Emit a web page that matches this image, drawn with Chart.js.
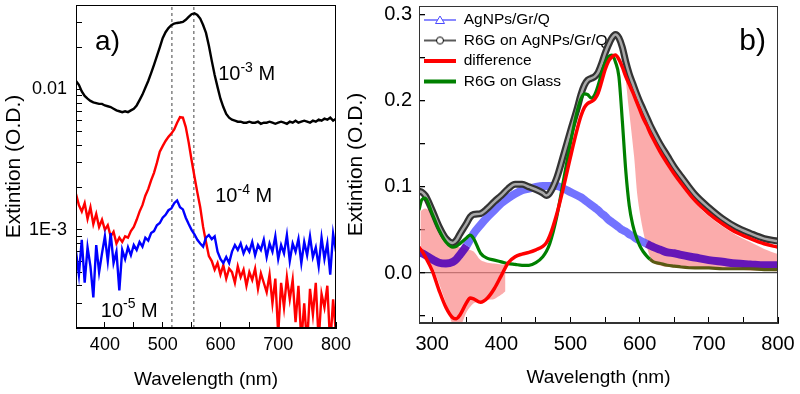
<!DOCTYPE html>
<html><head><meta charset="utf-8">
<script src="https://cdn.jsdelivr.net/npm/chart.js@4.4.0/dist/chart.umd.min.js"></script>
<style>
html,body{margin:0;padding:0;background:#fff;}
#wrap{position:relative;width:800px;height:394px;overflow:hidden;background:#fff;}
#ca{position:absolute;left:0;top:0;}
#cb{position:absolute;left:340px;top:0;}
</style></head><body>
<div id="wrap"><canvas id="ca" width="360" height="394"></canvas><canvas id="cb" width="460" height="394"></canvas></div>
<script>
// ---------------- Panel a data (log scale) ----------------
const waveA = [350,355,360,365,370,375,380,385,390,395,400,405,410,415,420,425,430,435,440,445,450,455,460,465,470,475,480,485,490,495,500,505,510,515,520,525,530,535,540,545,550,555,560,565,570,575,580,585,590,595,600,605,610,615,620,625,630,635,640,645,650,655,660,665,670,675,680,685,690,695,700,705,710,715,720,725,730,735,740,745,750,755,760,765,770,775,780,785,790,795,800];
const conc1e3 = [0.0115,0.0108,0.0097,0.0090,0.0086,0.0083,0.0081,0.0080,0.0079,0.0079,0.0077,0.0076,0.0075,0.0073,0.0071,0.0070,0.0069,0.0070,0.0069,0.0071,0.0073,0.0077,0.0084,0.0092,0.0103,0.0115,0.0131,0.0150,0.0173,0.0200,0.0232,0.0256,0.0274,0.0287,0.0295,0.0298,0.0300,0.0303,0.0314,0.0329,0.0344,0.0349,0.0340,0.0320,0.0288,0.0253,0.0205,0.0160,0.0127,0.0104,0.0086,0.0075,0.0067,0.0063,0.0061,0.0060,0.0059,0.0059,0.0058,0.0058,0.0059,0.0058,0.0058,0.0059,0.0057,0.0058,0.0058,0.0059,0.0058,0.0057,0.0058,0.0059,0.0058,0.0057,0.0059,0.0058,0.0060,0.0058,0.0059,0.0060,0.0059,0.0058,0.0060,0.0059,0.0061,0.0060,0.0062,0.0061,0.0063,0.0060,0.0062];
const conc1e4 = [0.00180,0.00150,0.00135,0.00155,0.00120,0.00145,0.00110,0.00130,0.00105,0.00118,0.00100,0.00108,0.00090,0.00097,0.00080,0.00088,0.00082,0.00090,0.00088,0.00098,0.00105,0.00118,0.00135,0.00150,0.00175,0.00195,0.00225,0.00255,0.00300,0.00360,0.00395,0.00430,0.00460,0.00485,0.00520,0.00580,0.00635,0.00630,0.00540,0.00420,0.00315,0.00240,0.00185,0.00145,0.00105,0.00082,0.00065,0.00060,0.00052,0.00058,0.00048,0.00056,0.00045,0.00053,0.00050,0.00042,0.00055,0.00046,0.00052,0.00040,0.00050,0.00044,0.00053,0.00038,0.00049,0.00042,0.00036,0.00048,0.00030,0.00045,0.00018,0.00042,0.00028,0.00046,0.00032,0.00044,0.00022,0.00040,0.00016,0.00030,0.00015,0.00038,0.00025,0.00042,0.00016,0.00035,0.00028,0.00040,0.00015,0.00032,0.00018];
const conc1e5 = [0.00070,0.00048,0.00085,0.00042,0.00075,0.00055,0.00033,0.00078,0.00050,0.00068,0.00090,0.00060,0.00095,0.00058,0.00070,0.00037,0.00072,0.00062,0.00075,0.00066,0.00078,0.00072,0.00082,0.00076,0.00088,0.00084,0.00095,0.00098,0.00108,0.00112,0.00122,0.00128,0.00138,0.00142,0.00155,0.00162,0.00145,0.00140,0.00122,0.00110,0.00100,0.00093,0.00085,0.00080,0.00076,0.00088,0.00092,0.00086,0.00090,0.00070,0.00062,0.00058,0.00064,0.00058,0.00070,0.00078,0.00072,0.00080,0.00068,0.00076,0.00070,0.00082,0.00066,0.00078,0.00072,0.00085,0.00064,0.00080,0.00070,0.00090,0.00062,0.00078,0.00068,0.00092,0.00060,0.00080,0.00070,0.00086,0.00058,0.00082,0.00066,0.00090,0.00064,0.00075,0.00055,0.00088,0.00062,0.00080,0.00048,0.00094,0.00070];
const dashWaveA = [516, 554];
const yMinA = 0.0002, yMaxA = 0.04;
const majorTicksA = [0.001, 0.01];
const majorLabelsA = ['1E-3', '0.01'];

// ---------------- Panel b data ----------------
const waveB = [281,285,290,300,310,320,330,335,340,350,355,360,370,380,390,400,410,420,430,440,450,460,465,470,480,490,500,510,515,520,525,530,535,540,545,550,555,560,565,570,575,580,585,590,595,600,605,610,615,620,630,640,650,660,680,700,720,740,760,780,800];
const agnps = [0.024,0.023,0.021,0.016,0.012,0.011,0.013,0.016,0.021,0.032,0.039,0.046,0.056,0.065,0.073,0.081,0.087,0.092,0.096,0.098,0.100,0.101,0.101,0.101,0.101,0.098,0.094,0.090,0.088,0.085,0.082,0.079,0.076,0.073,0.069,0.066,0.062,0.059,0.056,0.053,0.050,0.048,0.045,0.043,0.040,0.038,0.036,0.034,0.032,0.030,0.027,0.024,0.023,0.021,0.018,0.015,0.013,0.011,0.010,0.009,0.009];
const r6gOnAg = [0.095,0.094,0.090,0.073,0.054,0.040,0.035,0.038,0.045,0.058,0.065,0.068,0.069,0.075,0.083,0.090,0.098,0.103,0.103,0.100,0.097,0.093,0.090,0.093,0.110,0.137,0.165,0.192,0.207,0.218,0.224,0.226,0.228,0.233,0.243,0.255,0.265,0.273,0.277,0.273,0.262,0.245,0.231,0.220,0.209,0.199,0.190,0.181,0.172,0.164,0.149,0.136,0.123,0.112,0.091,0.076,0.063,0.053,0.046,0.040,0.037];
const difference = [0.030,0.026,0.019,0.003,-0.020,-0.040,-0.052,-0.053,-0.049,-0.034,-0.029,-0.030,-0.034,-0.029,-0.018,-0.003,0.012,0.019,0.022,0.024,0.027,0.031,0.035,0.043,0.068,0.100,0.135,0.168,0.182,0.192,0.197,0.199,0.202,0.209,0.222,0.236,0.246,0.251,0.253,0.248,0.239,0.228,0.219,0.210,0.200,0.190,0.180,0.172,0.163,0.155,0.140,0.127,0.115,0.104,0.084,0.069,0.057,0.047,0.040,0.034,0.030];
const r6gGlass = [0.073,0.085,0.087,0.069,0.050,0.036,0.030,0.031,0.034,0.041,0.044,0.040,0.023,0.017,0.015,0.013,0.011,0.010,0.009,0.009,0.012,0.019,0.025,0.034,0.065,0.108,0.151,0.189,0.202,0.208,0.207,0.203,0.207,0.218,0.232,0.244,0.251,0.253,0.245,0.228,0.176,0.118,0.078,0.056,0.042,0.032,0.025,0.020,0.016,0.013,0.011,0.009,0.008,0.007,0.006,0.006,0.005,0.005,0.005,0.004,0.004];
// shaded (pink) area boundaries
const fillWave  = [283,290,300,310,320,330,340,350,360,370,380,390,400,406,480,566,570,577,584,592,597,604,612,620,640,660,680,700,720,740,760,780,800];
const fillUpper = [0.072,0.075,0.070,0.058,0.045,0.033,0.030,0.028,0.025,0.015,0.012,0.011,0.010,0.010,null,0.252,0.249,0.237,0.222,0.205,0.196,0.182,0.166,0.152,0.124,0.101,0.081,0.066,0.054,0.044,0.036,0.028,0.022];
const fillLower = [0.032,0.022,0.008,-0.012,-0.035,-0.060,-0.062,-0.045,-0.035,-0.033,-0.031,-0.030,-0.025,-0.021,null,0.252,0.248,0.239,0.193,0.135,0.088,0.053,0.026,0.012,0.007,0.006,0.005,0.005,0.004,0.004,0.003,0.003,0.002];
const legendNames = ['AgNPs/Gr/Q', 'R6G on AgNPs/Gr/Q', 'difference', 'R6G on Glass'];

const FONT = "'Liberation Sans', Arial, sans-serif";
const xy = (xs, ys) => xs.map((x, i) => ({x: x, y: ys[i]}));

function fixAxis(w, isY) {
  return function (s) {
    if (isY) s.width = w; else s.height = w;
    s.paddingTop = 0; s.paddingBottom = 0; s.paddingLeft = 0; s.paddingRight = 0;
  };
}
const boxPlugin = {
  id: 'box',
  afterDraw(chart, args, opts) {
    const a = chart.chartArea, c = chart.ctx;
    c.save(); c.strokeStyle = opts.color || '#000'; c.lineWidth = 1;
    c.strokeRect(Math.round(a.left) + 0.5, Math.round(a.top) + 0.5, Math.round(a.right - a.left) - 1, Math.round(a.bottom - a.top) - 1);
    c.restore();
  }
};
const textPlugin = {
  id: 'notes',
  afterDraw(chart, args, opts) {
    const c = chart.ctx, xs = chart.scales.x, ys = chart.scales.y;
    c.save(); c.fillStyle = '#000'; c.textBaseline = 'alphabetic'; c.textAlign = 'left';
    (opts.items || []).forEach(it => {
      let x = xs.getPixelForValue(it.wl), y = ys.getPixelForValue(it.val);
      c.font = it.size + 'px ' + FONT; c.fillText(it.base, x, y); x += c.measureText(it.base).width;
      if (it.sup) { c.font = Math.round(it.size * 0.7) + 'px ' + FONT; c.fillText(it.sup, x, y - it.size * 0.42); x += c.measureText(it.sup).width; }
      if (it.tail) { c.font = it.size + 'px ' + FONT; c.fillText(it.tail, x, y); }
    });
    c.restore();
  }
};

// ---------------- Chart a ----------------
const logTicksA = [];
[0.0001, 0.001, 0.01].forEach(d => { for (let k = 1; k <= 9; k++) { const v = +(d * k).toPrecision(3); if (v >= yMinA && v <= yMaxA) logTicksA.push(v); } });

new Chart(document.getElementById('ca'), {
  type: 'line',
  data: {
    datasets: [
      {label: '10-3 M', data: xy(waveA, conc1e3), borderColor: '#000', borderWidth: 2.4, pointRadius: 0, tension: 0, order: 3, clip: 0},
      {label: '10-4 M', data: xy(waveA, conc1e4), borderColor: '#ff0000', borderWidth: 2.4, pointRadius: 0, tension: 0, order: 2, clip: 0},
      {label: '10-5 M', data: xy(waveA, conc1e5), borderColor: '#0000ff', borderWidth: 2.4, pointRadius: 0, tension: 0, order: 1, clip: 0},
      {label: 'd1', data: [{x: dashWaveA[0], y: yMinA}, {x: dashWaveA[0], y: yMaxA}], borderColor: '#444', borderWidth: 1, borderDash: [3, 3], pointRadius: 0, order: 4},
      {label: 'd2', data: [{x: dashWaveA[1], y: yMinA}, {x: dashWaveA[1], y: yMaxA}], borderColor: '#444', borderWidth: 1, borderDash: [3, 3], pointRadius: 0, order: 4}
    ]
  },
  options: {
    responsive: false, animation: false, events: [],
    layout: {padding: {left: 0, top: 5, right: 24, bottom: 0}},
    plugins: {legend: {display: false}, tooltip: {enabled: false}, box: {color: '#000'},
      notes: {items: [
        {base: 'a)', size: 28, wl: 383, val: 0.0191},
        {base: '10', sup: '-3', tail: ' M', size: 20, wl: 596, val: 0.0117},
        {base: '10', sup: '-4', tail: ' M', size: 20, wl: 591, val: 0.00158},
        {base: '10', sup: '-5', tail: ' M', size: 20, wl: 393, val: 0.00024}
      ]}},
    scales: {
      x: {type: 'linear', min: 350, max: 800, afterFit: fixAxis(66, false),
        grid: {drawOnChartArea: false, drawTicks: true, tickLength: -6, tickColor: '#000'},
        border: {display: true, color: '#000', width: 1},
        ticks: {stepSize: 50, includeBounds: false, autoSkip: false, maxRotation: 0, padding: 12, color: '#000', font: {size: 18, family: FONT},
          callback: v => (v % 100 === 0 ? String(v) : '')},
        title: {display: true, text: 'Wavelength (nm)', color: '#000', font: {size: 19, family: FONT}, padding: {top: 0, bottom: 3}}},
      y: {type: 'logarithmic', min: yMinA, max: yMaxA, afterFit: fixAxis(76, true),
        afterBuildTicks: s => { s.ticks = logTicksA.map(v => ({value: v})); },
        grid: {drawOnChartArea: false, drawTicks: true, tickLength: -6, tickColor: '#000'},
        border: {display: true, color: '#000', width: 1},
        ticks: {autoSkip: false, padding: 15, color: '#000', font: {size: 18, family: FONT},
          callback: v => { const i = majorTicksA.findIndex(m => Math.abs(m - v) < 1e-9); return i >= 0 ? majorLabelsA[i] : ''; }},
        title: {display: true, text: 'Extintion (O.D.)', color: '#000', font: {size: 21, family: FONT}, padding: {top: 2, bottom: 0}}}
    }
  },
  plugins: [boxPlugin, textPlugin]
});

// ---------------- Chart b ----------------
function swatch(kind, color) {
  const c = document.createElement('canvas'); c.width = 32; c.height = 12;
  const g = c.getContext('2d');
  g.strokeStyle = color; g.beginPath(); g.moveTo(0, 6); g.lineTo(32, 6);
  g.lineWidth = (kind === 'tri' || kind === 'circ') ? 1.3 : 4; g.stroke();
  g.lineWidth = 1; g.fillStyle = '#fff';
  if (kind === 'tri') { g.beginPath(); g.moveTo(16, 2); g.lineTo(20.5, 9.5); g.lineTo(11.5, 9.5); g.closePath(); g.fill(); g.stroke(); }
  if (kind === 'circ') { g.beginPath(); g.arc(16, 6, 3.5, 0, Math.PI * 2); g.fill(); g.stroke(); }
  return c;
}
const swatches = [swatch('tri', '#4a4aff'), swatch('circ', '#000'), swatch('line', '#ff0000'), swatch('line', '#008000')];
const inPink = x => x < 346 || x >= 606;

new Chart(document.getElementById('cb'), {
  type: 'line',
  data: {
    datasets: [
      {label: legendNames[0], data: xy(waveB, agnps), borderColor: 'rgba(90,90,255,0.85)', borderWidth: 8, pointRadius: 0, cubicInterpolationMode: 'monotone', order: 5, clip: 0,
        segment: {borderColor: ctx => inPink(ctx.p0.parsed.x) ? 'rgba(88,10,185,0.92)' : 'rgba(90,90,255,0.85)'}},
      {label: legendNames[1], data: xy(waveB, r6gOnAg), borderColor: '#333', borderWidth: 7, pointRadius: 0, cubicInterpolationMode: 'monotone', order: 4, clip: 0},
      {label: legendNames[2], data: xy(waveB, difference), borderColor: '#ff0000', borderWidth: 3.5, pointRadius: 0, cubicInterpolationMode: 'monotone', order: 1, clip: 0},
      {label: legendNames[3], data: xy(waveB, r6gGlass), borderColor: '#008000', borderWidth: 3.2, pointRadius: 0, cubicInterpolationMode: 'monotone', order: 2, clip: 0,
        segment: {borderColor: ctx => ctx.p0.parsed.x >= 615 ? '#5a5a12' : '#008000'}},
      {label: 'inner', data: xy(waveB, r6gOnAg), borderColor: '#a8a8a8', borderWidth: 2.5, pointRadius: 0, cubicInterpolationMode: 'monotone', order: 3, clip: 0},
      {label: 'fillU', data: xy(fillWave, fillUpper), borderWidth: 0, borderColor: 'rgba(0,0,0,0)', backgroundColor: 'rgba(250,135,135,0.7)', pointRadius: 0, fill: '+1', spanGaps: false, tension: 0.3, order: 6, clip: 0},
      {label: 'fillL', data: xy(fillWave, fillLower), borderWidth: 0, borderColor: 'rgba(0,0,0,0)', pointRadius: 0, fill: false, spanGaps: false, tension: 0.3, order: 7, clip: 0}
    ]
  },
  options: {
    responsive: false, animation: false, events: [],
    layout: {padding: {left: 0, top: 6, right: 22, bottom: 0}},
    plugins: {
      tooltip: {enabled: false}, box: {color: '#333'},
      notes: {items: [{base: 'b)', size: 30, wl: 744, val: 0.259}]},
      legend: {display: true, position: 'chartArea', align: 'start',
        title: {display: true, text: ' ', font: {size: 1}, padding: {top: 3, bottom: 3}},
        labels: {color: '#000', font: {size: 15.5, family: FONT, lineHeight: 0.97}, usePointStyle: true, pointStyleWidth: 32, boxHeight: 12, padding: 5,
          filter: it => it.datasetIndex < 4,
          sort: (a, b) => a.datasetIndex - b.datasetIndex,
          generateLabels: chart => Chart.defaults.plugins.legend.labels.generateLabels(chart).map(it => { if (it.datasetIndex < 4) it.pointStyle = swatches[it.datasetIndex]; return it; })}}
    },
    scales: {
      x: {type: 'linear', min: 281, max: 800, afterFit: fixAxis(71, false),
        grid: {drawOnChartArea: false, drawTicks: true, tickLength: -6, tickColor: '#000'},
        border: {display: true, color: '#333', width: 1},
        ticks: {stepSize: 50, includeBounds: false, autoSkip: false, maxRotation: 0, padding: 15, color: '#000', font: {size: 20, family: FONT},
          callback: v => (v % 100 === 0 ? String(v) : '')},
        title: {display: true, text: 'Wavelength (nm)', color: '#000', font: {size: 19, family: FONT}, padding: {top: 0, bottom: 5}}},
      y: {type: 'linear', min: -0.058, max: 0.31, afterFit: fixAxis(79, true),
        grid: {drawOnChartArea: true, drawTicks: true, tickLength: -6, tickColor: '#000', lineWidth: 1.3,
          color: ctx => (ctx.tick && Math.abs(ctx.tick.value) < 1e-9 ? '#444' : 'rgba(0,0,0,0)')},
        border: {display: true, color: '#333', width: 1},
        ticks: {stepSize: 0.05, includeBounds: false, autoSkip: false, padding: 13, color: '#000', font: {size: 20, family: FONT},
          callback: v => (Math.abs(v * 10 - Math.round(v * 10)) < 1e-6 ? v.toFixed(1) : '')},
        title: {display: true, text: 'Extintion (O.D.)', color: '#000', font: {size: 21, family: FONT}, padding: {top: 4, bottom: 0}}}
    }
  },
  plugins: [boxPlugin, textPlugin]
});
</script></body></html>
